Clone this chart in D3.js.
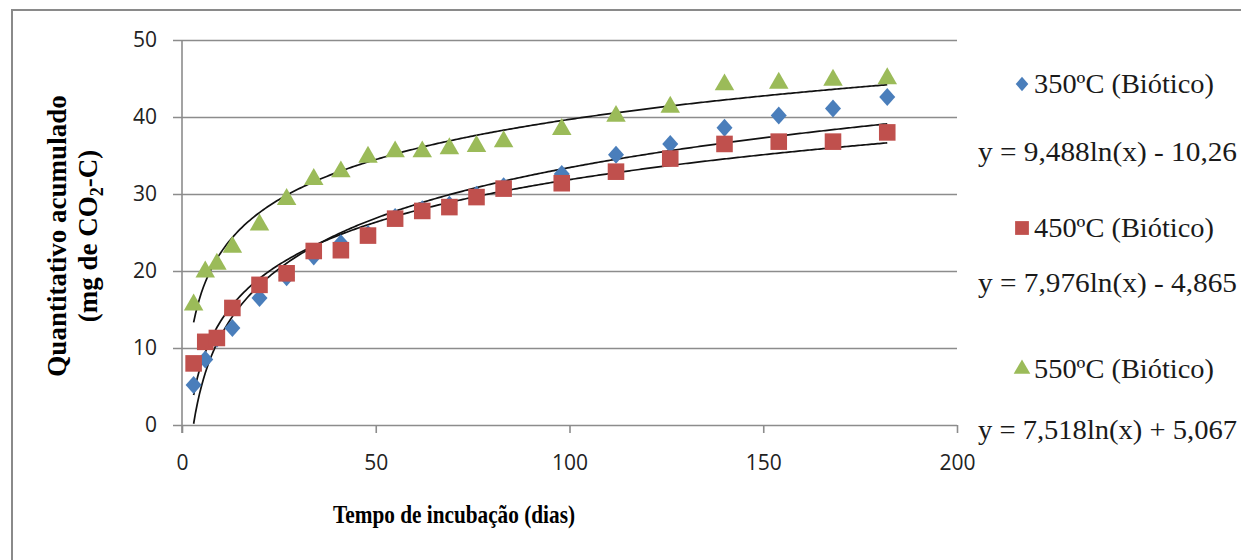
<!DOCTYPE html>
<html>
<head>
<meta charset="utf-8">
<script src="https://cdn.jsdelivr.net/npm/d3@7"></script>
<style>
  body { margin: 0; background: #fff; }
  svg { display: block; }
</style>
</head>
<body>
<div id="chart"></div>
<script>
// incubation days
var days = [3, 6, 9, 13, 20, 27, 34, 41, 48, 55, 62, 69, 76, 83, 98, 112, 126, 140, 154, 168, 182];
var s350 = [5.2, 8.5, 11.2, 12.6, 16.5, 19.2, 21.9, 23.6, 24.8, 27.0, 28.0, 28.6, 29.9, 31.0, 32.6, 35.1, 36.5, 38.6, 40.2, 41.1, 42.6];
var s450 = [8.0, 10.8, 11.3, 15.2, 18.2, 19.7, 22.6, 22.7, 24.6, 26.8, 27.8, 28.3, 29.6, 30.7, 31.4, 32.9, 34.6, 36.5, 36.8, 36.8, 38.0];
var s550 = [15.6, 19.9, 20.9, 23.1, 26.0, 29.3, 31.9, 32.9, 34.8, 35.5, 35.5, 35.9, 36.2, 36.8, 38.4, 40.1, 41.3, 44.2, 44.4, 44.8, 45.0];
var seriesNames = ["350ºC (Biótico)", "450ºC (Biótico)", "550ºC (Biótico)"];
var seriesColors = ["#4a7ebb", "#c0504d", "#9bbb59"];
// log trend coefficients (y = a ln(x) + b) as printed
var trendA = [9.488, 7.976, 7.518];
var trendB = [-10.26, -4.865, 5.067];
var trendLabels = ["y = 9,488ln(x) - 10,26", "y = 7,976ln(x) - 4,865", "y = 7,518ln(x) + 5,067"];
var xTicks = [0, 50, 100, 150, 200];
var yTicks = [0, 10, 20, 30, 40, 50];

var width = 1241, height = 560;
var svg = d3.select("#chart").append("svg")
    .attr("width", width)
    .attr("height", height);

// outer frame
svg.append("rect")
    .attr("x", 12).attr("y", 10)
    .attr("width", width + 20).attr("height", height + 20)
    .attr("fill", "none")
    .attr("stroke", "#8a8a8a")
    .attr("stroke-width", 2);

var x = d3.scaleLinear().domain([0, 200]).range([182, 957]);
var y = d3.scaleLinear().domain([0, 50]).range([425, 40]);

// gridlines + y axis
var yAxis = d3.axisLeft(y).tickValues(yTicks).tickSize(-(x(200) - x(0))).tickPadding(25);
var gy = svg.append("g").attr("transform", "translate(" + x(0) + ",0)").call(yAxis);
gy.select(".domain").remove();
gy.selectAll(".tick line")
    .attr("x1", -9)
    .attr("stroke", "#8c8c8c")
    .attr("stroke-width", 1.6);
gy.selectAll(".tick text")
    .attr("fill", "#222")
    .style("font-family", "'Open Sans', sans-serif")
    .style("font-size", "21px");

svg.append("line")
    .attr("x1", x(0)).attr("x2", x(0))
    .attr("y1", y(50)).attr("y2", y(0) + 8)
    .attr("stroke", "#8c8c8c").attr("stroke-width", 1.6);

// x axis
var xAxis = d3.axisBottom(x).tickValues(xTicks).tickSize(8).tickPadding(22);
var gx = svg.append("g").attr("transform", "translate(0," + y(0) + ")").call(xAxis);
gx.select(".domain").remove();
gx.selectAll(".tick line")
    .attr("stroke", "#8c8c8c")
    .attr("stroke-width", 1.6);
gx.selectAll(".tick text")
    .attr("fill", "#222")
    .style("font-family", "'Open Sans', sans-serif")
    .style("font-size", "21px");

// trend lines
var line = d3.line()
    .x(function (d) { return x(d[0]); })
    .y(function (d) { return y(d[1]); });
var xs = d3.range(days[0], days[days.length - 1] + 0.01, 0.5);
trendA.forEach(function (a, i) {
    var pts = xs.map(function (v) { return [v, a * Math.log(v) + trendB[i]]; });
    svg.append("path")
        .attr("d", line(pts))
        .attr("fill", "none")
        .attr("stroke", "#111")
        .attr("stroke-width", 1.7);
});

// markers
var shapes = [d3.symbolDiamond2, d3.symbolSquare, d3.symbolTriangle];
var sizes = [210, 275, 165];
var stretch = ["scale(0.88,1)", "", ""];
var allSeries = [s350, s450, s550];
allSeries.forEach(function (vals, i) {
    svg.append("g").selectAll("path")
        .data(vals)
        .enter()
        .append("path")
        .attr("d", d3.symbol().type(shapes[i]).size(sizes[i]))
        .attr("transform", function (d, j) {
            return "translate(" + x(days[j]) + "," + y(d) + ")" + stretch[i];
        })
        .attr("fill", seriesColors[i]);
});

// legend
var legY = [84, 228, 369];
var eqY = [152, 283, 430];
seriesNames.forEach(function (name, i) {
    var g = svg.append("g").attr("transform", "translate(1022," + legY[i] + ")");
    g.append("path")
        .attr("d", d3.symbol().type(shapes[i]).size([130, 190, 120][i]))
        .attr("transform", stretch[i])
        .attr("fill", seriesColors[i]);
    g.append("text")
        .attr("x", 12).attr("y", 9)
        .attr("fill", "#1a1a1a")
        .attr("textLength", 180)
        .attr("lengthAdjust", "spacingAndGlyphs")
        .style("font-family", "'Liberation Serif', serif")
        .style("font-size", "27px")
        .text(name);
    svg.append("text")
        .attr("x", 978).attr("y", eqY[i] + 9)
        .attr("fill", "#1a1a1a")
        .attr("textLength", 259)
        .attr("lengthAdjust", "spacingAndGlyphs")
        .style("font-family", "'Liberation Serif', serif")
        .style("font-size", "27px")
        .text(trendLabels[i]);
});

// axis titles
svg.append("text")
    .attr("x", 333).attr("y", 523)
    .attr("textLength", 242)
    .attr("lengthAdjust", "spacingAndGlyphs")
    .style("font-family", "'Liberation Serif', serif")
    .style("font-weight", "bold")
    .style("font-size", "25px")
    .text("Tempo de incubação (dias)");

var yt = svg.append("text")
    .attr("transform", "translate(66,236) rotate(-90)")
    .attr("text-anchor", "middle")
    .style("font-family", "'Liberation Serif', serif")
    .style("font-weight", "bold")
    .style("font-size", "27px");
yt.append("tspan").attr("x", 0).attr("y", 0).text("Quantitativo acumulado");
var t2 = yt.append("tspan").attr("x", 0).attr("y", 31);
t2.append("tspan").text("(mg de CO");
t2.append("tspan").attr("dy", 6).style("font-size", "18px").text("2");
t2.append("tspan").attr("dy", -6).text("-C)");
</script>
</body>
</html>
